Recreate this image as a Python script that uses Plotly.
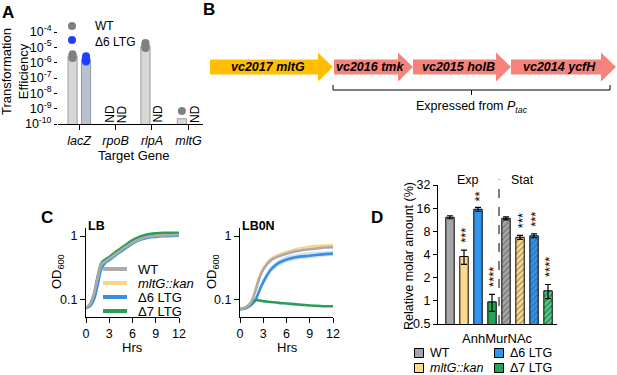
import plotly.graph_objects as go
import math

W, H = 617, 375
FONT = "Liberation Sans, Arial, sans-serif"


def px(x):
    return x / W


def py(y):
    return 1 - y / H


# ---------------- Panel A data ----------------
genes_A = ["lacZ", "rpoB", "rlpA", "mltG"]
wt_mean_A = [2.6e-6, None, 1.2e-5, 2.2e-10]
d6_mean_A = [1.7e-6, None, None, None]
wt_pts_gene = ["lacZ", "lacZ", "lacZ", "lacZ", "rlpA", "rlpA", "rlpA", "rlpA", "mltG"]
wt_pts_val = [2.0e-6, 2.4e-6, 2.9e-6, 3.5e-6, 9.0e-6, 1.1e-5, 1.4e-5, 1.9e-5, 7.0e-10]
d6_pts_gene = ["lacZ", "lacZ", "lacZ", "lacZ"]
d6_pts_val = [1.2e-6, 1.6e-6, 2.0e-6, 2.6e-6]
nd_gene = ["rpoB", "rpoB", "rlpA", "mltG"]
nd_strain = ["WT", "d6", "d6", "d6"]
a_ticks = [1e-4, 1e-5, 1e-6, 1e-7, 1e-8, 1e-9, 1e-10]
a_ticktext = ["10<sup>-4</sup>", "10<sup>-5</sup>", "10<sup>-6</sup>", "10<sup>-7</sup>",
              "10<sup>-8</sup>", "10<sup>-9</sup>", "10<sup>-10</sup>"]

# ---------------- Panel B data ----------------
gene_names = ["vc2017 mltG", "vc2016 tmk", "vc2015 holB", "vc2014 ycfH"]
gene_start = [5, 129, 208, 306]
gene_end = [128, 208, 306, 411]
gene_colors = ["#FFBF00", "#F5837C", "#F5837C", "#F5837C"]

# ---------------- Panel C data ----------------
hrs = [0, 0.5, 1, 1.5, 2, 2.5, 3, 4, 5, 6, 7, 8, 9, 10, 11, 12]
strains = ["WT", "<i>mltG::kan</i>", "Δ6 LTG", "Δ7 LTG"]
LB_WT = [0.075, 0.085, 0.12, 0.22, 0.36, 0.40, 0.44, 0.54, 0.66, 0.79, 0.90, 0.97, 1.00, 1.02, 1.03, 1.04]
LB_mltG = [0.075, 0.086, 0.125, 0.23, 0.37, 0.42, 0.47, 0.58, 0.72, 0.85, 0.95, 1.00, 1.03, 1.04, 1.05, 1.05]
LB_d6 = [0.075, 0.080, 0.10, 0.17, 0.31, 0.38, 0.42, 0.52, 0.63, 0.76, 0.87, 0.94, 0.97, 0.99, 1.00, 1.01]
LB_d7 = [0.075, 0.085, 0.12, 0.23, 0.38, 0.43, 0.47, 0.58, 0.71, 0.86, 0.98, 1.06, 1.10, 1.12, 1.12, 1.12]
LB0N_WT = [0.072, 0.074, 0.080, 0.095, 0.14, 0.22, 0.30, 0.42, 0.48, 0.53, 0.57, 0.60, 0.62, 0.64, 0.66, 0.67]
LB0N_mltG = [0.072, 0.074, 0.080, 0.096, 0.145, 0.23, 0.31, 0.44, 0.51, 0.56, 0.61, 0.65, 0.68, 0.70, 0.71, 0.72]
LB0N_d6 = [0.072, 0.073, 0.077, 0.085, 0.10, 0.14, 0.19, 0.30, 0.38, 0.43, 0.46, 0.48, 0.49, 0.51, 0.52, 0.53]
LB0N_d6_hi = [0.074, 0.075, 0.080, 0.090, 0.11, 0.16, 0.22, 0.34, 0.43, 0.49, 0.52, 0.54, 0.56, 0.57, 0.58, 0.59]
LB0N_d6_lo = [0.070, 0.071, 0.074, 0.080, 0.092, 0.125, 0.17, 0.27, 0.34, 0.39, 0.42, 0.44, 0.45, 0.47, 0.48, 0.49]
LB0N_d7 = [0.072, 0.074, 0.080, 0.090, 0.100, 0.098, 0.096, 0.093, 0.090, 0.088, 0.086, 0.084, 0.082, 0.081, 0.080, 0.080]
c_colors = ["#ababab", "#F8D58C", "#3A8FE2", "#2A9E58"]

# ---------------- Panel D data ----------------
d_strains = ["WT", "<i>mltG::kan</i>", "Δ6 LTG", "Δ7 LTG"]
exp_vals = [12.2, 3.77, 15.5, 0.97]
exp_err = [0.55, 0.8, 0.9, 0.24]
exp_sig = ["", "***", "**", "****"]
stat_vals = [11.8, 6.7, 7.0, 1.35]
stat_err = [0.55, 0.4, 0.4, 0.28]
stat_sig = ["", "***", "***", "****"]
d_colors = ["#A6A6A6", "#FBD98A", "#2F95EE", "#24A35A"]
d_ticks = [0.5, 1, 2, 4, 8, 16, 32]
d_ticktext = ["0.5", "1", "2", "4", "8", "16", "32"]

fig = go.Figure()

# ---- Panel A traces
idxA = {g: i for i, g in enumerate(genes_A)}
offA = {"WT": -0.18, "d6": 0.19}
fig.add_trace(go.Bar(
    x=[i + offA["WT"] for i, v in enumerate(wt_mean_A) if v is not None],
    y=[v for v in wt_mean_A if v is not None], width=0.25,
    marker=dict(color="#d7d7d7", line=dict(color="#9d9d9d", width=1)),
    xaxis="x", yaxis="y", showlegend=False))
fig.add_trace(go.Bar(
    x=[i + offA["d6"] for i, v in enumerate(d6_mean_A) if v is not None],
    y=[v for v in d6_mean_A if v is not None], width=0.25,
    marker=dict(color="#b7c1d0", line=dict(color="#9099a6", width=1)),
    xaxis="x", yaxis="y", showlegend=False))
fig.add_trace(go.Scatter(
    x=[idxA[g] + offA["WT"] for g in wt_pts_gene], y=wt_pts_val, mode="markers",
    marker=dict(color="#808080", size=8), xaxis="x", yaxis="y", showlegend=False))
fig.add_trace(go.Scatter(
    x=[idxA[g] + offA["d6"] for g in d6_pts_gene], y=d6_pts_val, mode="markers",
    marker=dict(color="#1f3fff", size=8), xaxis="x", yaxis="y", showlegend=False))

# ---- Panel C traces
def add_growth(xa, ya, series, band=None):
    if band is not None:
        lo, hi, col = band
        fig.add_trace(go.Scatter(x=hrs, y=lo, mode="lines", line=dict(width=0),
                                 xaxis=xa, yaxis=ya, showlegend=False, hoverinfo="skip"))
        fig.add_trace(go.Scatter(x=hrs, y=hi, mode="lines", line=dict(width=0), fill="tonexty",
                                 fillcolor=col, xaxis=xa, yaxis=ya, showlegend=False, hoverinfo="skip"))
    for k in [1, 2, 3, 0]:
        fig.add_trace(go.Scatter(x=hrs, y=series[k], mode="lines",
                                 line=dict(color=c_colors[k], width=2.6, shape="spline"),
                                 xaxis=xa, yaxis=ya, showlegend=False))

add_growth("x3", "y3", [LB_WT, LB_mltG, LB_d6, LB_d7])
add_growth("x4", "y4", [LB0N_WT, LB0N_mltG, LB0N_d6, LB0N_d7],
           band=(LB0N_d6_lo, LB0N_d6_hi, "rgba(58,143,226,0.25)"))

# ---- Panel D traces
exp_x = [0, 1, 2, 3]
stat_x = [4, 5, 6, 7]
fig.add_trace(go.Bar(
    x=exp_x, y=exp_vals, width=0.6,
    marker=dict(color=d_colors, line=dict(color="black", width=1)),
    error_y=dict(type="data", array=exp_err, color="black", thickness=1.2, width=3),
    xaxis="x5", yaxis="y5", showlegend=False))
fig.add_trace(go.Bar(
    x=stat_x, y=stat_vals, width=0.6,
    marker=dict(color=d_colors, line=dict(color="black", width=1),
                pattern=dict(shape="/", fgcolor="#2a2a2a", size=4, solidity=0.3, fillmode="overlay")),
    error_y=dict(type="data", array=stat_err, color="black", thickness=1.2, width=3),
    xaxis="x5", yaxis="y5", showlegend=False))

annotations = []
shapes = []


def ann(text, x, y, size=12, xanchor="center", yanchor="middle", angle=0, xref="paper",
        yref="paper", **kw):
    d = dict(text=text, x=x, y=y, xref=xref, yref=yref, showarrow=False, xanchor=xanchor,
             yanchor=yanchor, textangle=angle, font=dict(size=size, family=FONT, color="black"))
    d.update(kw)
    annotations.append(d)


# Panel letters
for lab, x, y in [("A", 8, 13), ("B", 209, 10), ("C", 47, 217), ("D", 377, 217)]:
    ann("<b>%s</b>" % lab, px(x), py(y), size=17)

# Panel A labels
ann("Transformation<br>Efficiency", px(15), py(72), size=13, angle=-90)
ann("Target Gene", px(134), py(156), size=13)
for g, s in zip(nd_gene, nd_strain):
    ann("ND", idxA[g] + offA[s] * 0.85, -9.33, size=12, angle=-90, xref="x", yref="y")
# Panel A legend (one text block, two rows)
for col, yy in [("#808080", 26), ("#1f3fff", 40)]:
    shapes.append(dict(type="circle", xref="paper", yref="paper", x0=px(68), x1=px(76),
                       y0=py(yy + 4), y1=py(yy - 4), fillcolor=col, line=dict(width=0)))
ann("WT<br>Δ6 LTG", px(93), py(33.5), size=12, xanchor="left", align="left")

# Panel B
yc, bh, hh, hl = 53, 7.5, 14.5, 15
for nm, s, e, c in zip(gene_names, gene_start, gene_end, gene_colors):
    path = "M %f,%f L %f,%f L %f,%f L %f,%f L %f,%f L %f,%f L %f,%f Z" % (
        s, yc - bh, e - hl, yc - bh, e - hl, yc - hh, e, yc, e - hl, yc + hh, e - hl, yc + bh, s, yc + bh)
    shapes.append(dict(type="path", path=path, xref="x2", yref="y2", fillcolor=c, line=dict(width=0)))
    ann("<b><i>%s</i></b>" % nm, (s + e) / 2 - 4, yc, size=12.5, xref="x2", yref="y2")
b0, b1 = gene_start[1] - 1, gene_end[3] - 6
bm = (b0 + b1) / 2
shapes.append(dict(type="path", xref="x2", yref="y2", line=dict(color="black", width=1),
                   path="M %f,35 L %f,30 L %f,30 L %f,35 M %f,30 L %f,25" % (b0, b0, b1, b1, bm, bm)))
ann("Expressed from <i>P<sub>tac</sub></i>", bm, 13, size=12.5, xref="x2", yref="y2")

# Panel C labels
ann("<b>LB</b>", px(86), py(226), size=12.5, xanchor="left")
ann("<b>LB0N</b>", px(240), py(226), size=12.5, xanchor="left")
ann("OD<sub>600</sub>", px(57), py(272), size=13, angle=-90)
ann("OD<sub>600</sub>", px(212), py(272), size=13, angle=-90)
ann("Hrs", px(132), py(347), size=13)
ann("Hrs", px(287), py(347), size=13)
for k, yy in enumerate([269, 283, 297, 311]):
    shapes.append(dict(type="line", xref="paper", yref="paper", x0=px(103), x1=px(127),
                       y0=py(yy), y1=py(yy), line=dict(color=c_colors[k], width=4)))
    ann(strains[k], px(136), py(yy), size=13, xanchor="left")

# Panel D labels
ann("Relative molar amount (%)", px(409), py(256), size=12.5, angle=-90)
ann("AnhMurNAc", px(497), py(338), size=13)
ann("Exp", 1.3, 1.035, size=12.5, xref="x5", yref="y5 domain")
ann("Stat", 5.2, 1.035, size=12.5, xref="x5", yref="y5 domain")
shapes.append(dict(type="line", xref="x5", yref="y5 domain", x0=3.5, x1=3.5, y0=0, y1=1.04,
                   line=dict(color="black", width=1, dash="dash")))
for xs, vals, errs, sigs in [(exp_x, exp_vals, exp_err, exp_sig), (stat_x, stat_vals, stat_err, stat_sig)]:
    for x, v, e, s in zip(xs, vals, errs, sigs):
        if s:
            ann(s, x, math.log10(v + e), size=13, angle=-90, xref="x5", yref="y5",
                yshift=4 + 3.4 * len(s), xshift=2)
for k, (xx, yy) in enumerate([(419, 353), (419, 368), (499, 353), (499, 368)]):
    shapes.append(dict(type="rect", xref="paper", yref="paper", x0=px(xx - 4.5), x1=px(xx + 4.5),
                       y0=py(yy + 4.5), y1=py(yy - 4.5), fillcolor=d_colors[k],
                       line=dict(color="black", width=1)))
    ann(d_strains[k], px(xx + 9), py(yy), size=12.5, xanchor="left")

axis_common = dict(showgrid=False, zeroline=False, linecolor="black", linewidth=1, automargin=False,
                   tickcolor="black", tickfont=dict(size=12.5, family=FONT, color="black"))

fig.update_layout(
    template="none",
    width=W, height=H, margin=dict(l=0, r=0, t=0, b=0, pad=0, autoexpand=False),
    paper_bgcolor="white", plot_bgcolor="white", font=dict(family=FONT, color="black"),
    barmode="overlay", showlegend=False,
    xaxis=dict(domain=[px(58), px(203)], range=[-0.58, 3.4], tickvals=[0, 1, 2, 3],
               ticktext=["<i>%s</i>" % g for g in genes_A], showline=True, ticks="outside",
               ticklen=5, anchor="y", **axis_common),
    yaxis=dict(domain=[py(124), py(32)], type="log", range=[-10, -4], tickvals=a_ticks,
               ticktext=a_ticktext, showline=False, ticks="outside", ticklen=3, anchor="x",
               **axis_common),
    xaxis2=dict(domain=[px(205), px(617)], range=[0, 412], visible=False, anchor="y2", automargin=False),
    yaxis2=dict(domain=[py(120), py(40)], range=[0, 80], visible=False, anchor="x2", automargin=False),
    xaxis3=dict(domain=[px(86), px(179)], range=[0, 12], tickvals=[0, 3, 6, 9, 12], showline=True,
                ticks="outside", ticklen=5, anchor="y3", **axis_common),
    yaxis3=dict(domain=[py(317), py(228)], type="log", range=[-1.266, 0.125], tickvals=[0.1, 1],
                ticktext=["0.1", "1"], showline=True, ticks="outside", ticklen=5, anchor="x3",
                **axis_common),
    xaxis4=dict(domain=[px(240), px(333)], range=[0, 12], tickvals=[0, 3, 6, 9, 12], showline=True,
                ticks="outside", ticklen=5, anchor="y4", **axis_common),
    yaxis4=dict(domain=[py(317), py(228)], type="log", range=[-1.266, 0.125], tickvals=[0.1, 1],
                ticktext=["0.1", "1"], showline=True, ticks="outside", ticklen=5, anchor="x4",
                **axis_common),
    xaxis5=dict(domain=[px(438), px(557)], range=[-0.857, 7.64], showline=True, showticklabels=False,
                ticks="", anchor="y5", **axis_common),
    yaxis5=dict(domain=[py(324), py(185)], type="log", range=[math.log10(0.5), math.log10(32)],
                tickvals=d_ticks, ticktext=d_ticktext, showline=True, ticks="outside", ticklen=4,
                anchor="x5", **axis_common),
    annotations=annotations, shapes=shapes,
)

fig.write_html("out.html", config={"displayModeBar": False, "staticPlot": True},
               post_script="document.body.style.margin='0';document.body.style.padding='0';"
                           "document.documentElement.style.overflow='hidden';")
